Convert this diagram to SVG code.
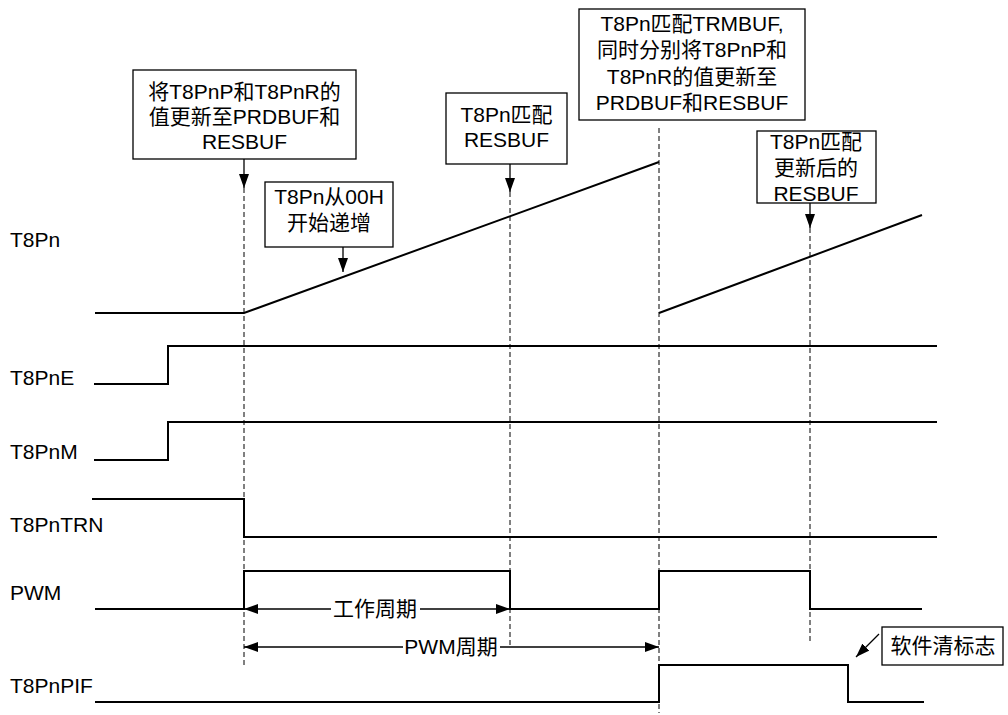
<svg xmlns="http://www.w3.org/2000/svg" width="1008" height="715" viewBox="0 0 1008 715">
<style>
text{font-family:"Liberation Sans","Noto Sans CJK SC",sans-serif;font-size:21px;fill:#000}
.c{text-anchor:middle}
.box{fill:#fff;stroke:#000;stroke-width:1.3}
.w{fill:none;stroke:#000;stroke-width:2}
.d{fill:none;stroke:#000;stroke-width:1;stroke-dasharray:5 3}
.a{fill:none;stroke:#000;stroke-width:1.3}
</style>
<defs>
<marker id="ah" viewBox="0 0 14 10" refX="14" refY="5" markerWidth="14" markerHeight="10" markerUnits="userSpaceOnUse" orient="auto-start-reverse">
<path d="M0,0 L14,5 L0,10 z" fill="#000"/>
</marker>
</defs>
<rect width="1008" height="715" fill="#fff"/>
<g id="connectors">
<line class="d" x1="244" y1="188" x2="244" y2="666"/>
<line class="d" x1="510" y1="192" x2="510" y2="646"/>
<line class="d" x1="659" y1="128" x2="659" y2="713"/>
<line class="d" x1="810" y1="228" x2="810" y2="641"/>
<line class="a" x1="244" y1="159" x2="244" y2="188" marker-end="url(#ah)"/>
<line class="a" x1="343" y1="247" x2="343" y2="272" marker-end="url(#ah)"/>
<line class="a" x1="510" y1="164" x2="510" y2="192" marker-end="url(#ah)"/>
<line class="a" x1="810" y1="203" x2="810" y2="228" marker-end="url(#ah)"/>
<line class="a" x1="879" y1="634" x2="856" y2="657" marker-end="url(#ah)"/>
<line class="a" x1="244" y1="609" x2="331" y2="609" marker-start="url(#ah)"/>
<line class="a" x1="420" y1="609" x2="510" y2="609" marker-end="url(#ah)"/>
<line class="a" x1="244" y1="647" x2="403" y2="647" marker-start="url(#ah)"/>
<line class="a" x1="500" y1="647" x2="659" y2="647" marker-end="url(#ah)"/>
</g>
<g id="waveforms">
<polyline class="w" points="95,313 244,313 659,162"/>
<polyline class="w" points="659,313 922,215"/>
<polyline class="w" points="94,384 168,384 168,346 937,346"/>
<polyline class="w" points="94,460 168,460 168,422 937,422"/>
<polyline class="w" points="92,499 244,499 244,537 937,537"/>
<polyline class="w" points="95,609 244,609 244,571 510,571 510,609 659,609 659,571 810,571 810,609 922,609"/>
<polyline class="w" points="95,702 659,702 659,665 848,665 848,702 924,702"/>
</g>
<g id="labels">
<text x="10" y="247">T8Pn</text>
<text x="10" y="385">T8PnE</text>
<text x="10" y="459">T8PnM</text>
<text x="10" y="532">T8PnTRN</text>
<text x="10" y="600">PWM</text>
<text x="10" y="693">T8PnPIF</text>
<text class="c" x="375" y="616">工作周期</text>
<text class="c" x="451" y="654">PWM周期</text>
</g>
<g id="box1">
<rect class="box" x="133" y="70" width="223" height="89"/>
<text class="c" x="244.5" y="99">将T8PnP和T8PnR的</text>
<text class="c" x="244.5" y="124">值更新至PRDBUF和</text>
<text class="c" x="244.5" y="149">RESBUF</text>
</g>
<g id="box2">
<rect class="box" x="265" y="182" width="128" height="65"/>
<text class="c" x="329" y="204">T8Pn从00H</text>
<text class="c" x="329" y="230">开始递增</text>
</g>
<g id="box3">
<rect class="box" x="446" y="93" width="121" height="71"/>
<text class="c" x="506.5" y="122">T8Pn匹配</text>
<text class="c" x="506.5" y="147">RESBUF</text>
</g>
<g id="box4">
<rect class="box" x="579" y="9" width="226" height="111"/>
<text class="c" x="692" y="31">T8Pn匹配TRMBUF,</text>
<text class="c" x="692" y="57">同时分别将T8PnP和</text>
<text class="c" x="692" y="84">T8PnR的值更新至</text>
<text class="c" x="692" y="110">PRDBUF和RESBUF</text>
</g>
<g id="box5">
<rect class="box" x="757" y="131" width="119" height="72"/>
<text class="c" x="816" y="149">T8Pn匹配</text>
<text class="c" x="816" y="175">更新后的</text>
<text class="c" x="816" y="201">RESBUF</text>
</g>
<g id="box6">
<rect class="box" x="882" y="627" width="121" height="38"/>
<text class="c" x="943" y="653">软件清标志</text>
</g>
</svg>
